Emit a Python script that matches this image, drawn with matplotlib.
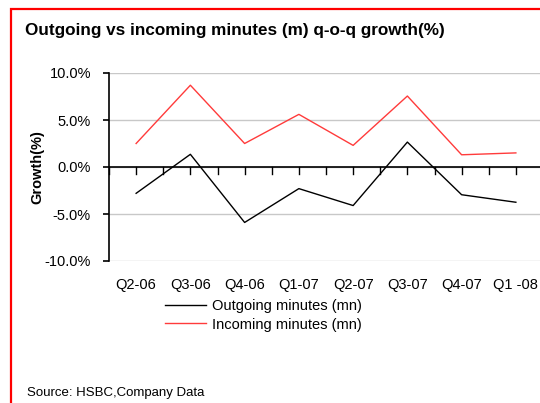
import matplotlib
matplotlib.use('Agg')
import matplotlib.pyplot as plt
from matplotlib.lines import Line2D
from matplotlib.patches import Rectangle
from matplotlib.ticker import FuncFormatter, MultipleLocator

plt.rcParams['font.family'] = ['Liberation Sans', 'DejaVu Sans']

quarters = ['Q2-06', 'Q3-06', 'Q4-06', 'Q1-07', 'Q2-07', 'Q3-07', 'Q4-07', 'Q1 -08']
outgoing = [-2.8, 1.35, -5.9, -2.3, -4.1, 2.65, -2.95, -3.75]
incoming = [2.5, 8.7, 2.5, 5.6, 2.3, 7.55, 1.3, 1.5]

fig = plt.figure(figsize=(5.4, 4.03), dpi=100)
W, H = 540, 403

# red frame (right and bottom run off the page)
fig.patches.append(Rectangle((10.5 / W, -0.05), 1.2, 1 - 9.5 / H + 0.05,
                             transform=fig.transFigure, fill=False,
                             edgecolor='#ff0000', linewidth=1.6))

ax = fig.add_axes([109 / W, 1 - 261 / H, (543 - 109) / W, (261 - 73) / H])
x = list(range(len(quarters)))
ax.plot(x, outgoing, color='black', linewidth=1.0)
ax.plot(x, incoming, color='#ff3b3b', linewidth=1.0)

ax.set_xlim(-0.5, len(quarters) - 0.5)
ax.set_ylim(-10, 10)
ax.yaxis.set_major_locator(MultipleLocator(5))
ax.yaxis.set_major_formatter(FuncFormatter(lambda v, p: f'{v:.1f}%'))
ax.grid(axis='y', color='#c8c8c8', linewidth=1.0)
ax.set_axisbelow(True)

for s in ['top', 'right', 'bottom']:
    ax.spines[s].set_visible(False)
ax.spines['left'].set_linewidth(1.2)
ax.axhline(0, color='black', linewidth=1.2, zorder=1.5)

# category ticks hang from the zero line
ax.set_xticks([])
for t in [i * 0.5 - 0.5 for i in range(2 * len(quarters) + 1)]:
    ax.plot([t, t], [0, -0.75], color='black', linewidth=1.0, clip_on=False)
for i, q in enumerate(quarters):
    ax.text(i, -12.55, q, ha='center', va='center', fontsize=10.5)

ax.tick_params(axis='y', direction='out', length=4, width=1.2, labelsize=10.5, pad=9)
ax.set_ylabel('Growth(%)', fontsize=10.5, fontweight='bold')
ax.yaxis.set_label_coords((44 - 109) / 434, 0.5)

fig.text(25 / W, 1 - 30 / H, 'Outgoing vs incoming minutes (m) q-o-q growth(%)',
         fontsize=12.3, fontweight='bold', ha='left', va='center')

handles = [Line2D([], [], color='black', linewidth=1.0),
           Line2D([], [], color='#ff3b3b', linewidth=1.0)]
fig.legend(handles, ['Outgoing minutes (mn)', 'Incoming minutes (mn)'],
           loc='upper left', bbox_to_anchor=(152 / W, 1 - 286 / H),
           frameon=False, fontsize=10.5, handlelength=2.8, handletextpad=0.4,
           labelspacing=0.3)

fig.text(27 / W, 1 - 393 / H, 'Source: HSBC,Company Data', fontsize=9.5,
         ha='left', va='center')

fig.savefig('out.png', dpi=100)
